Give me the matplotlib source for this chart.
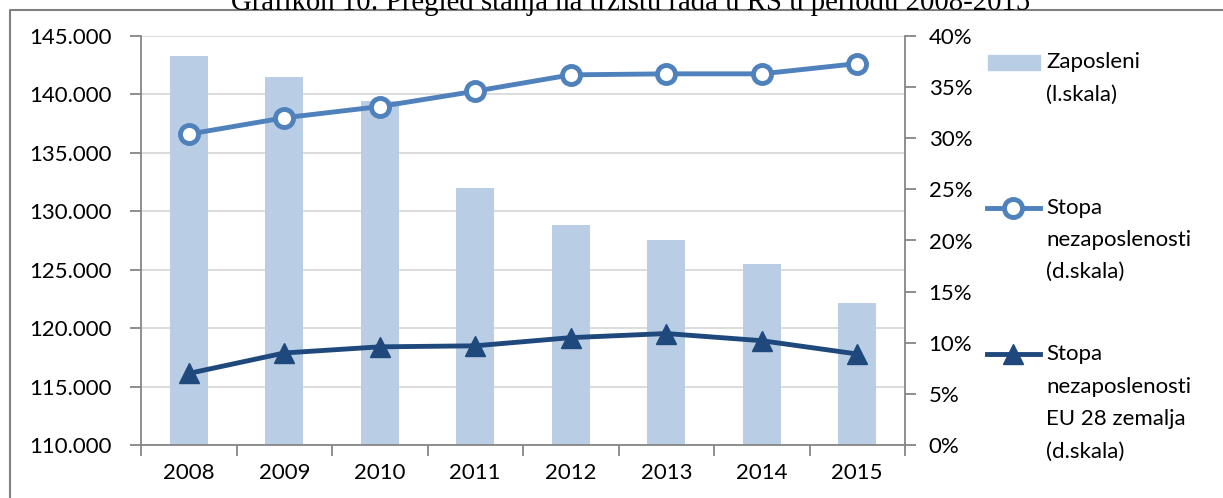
import matplotlib
matplotlib.use("Agg")
import matplotlib.pyplot as plt
from matplotlib.lines import Line2D
from matplotlib.patches import Rectangle
import numpy as np

years = ["2008", "2009", "2010", "2011", "2012", "2013", "2014", "2015"]
zaposleni = [143300, 141500, 139450, 132000, 128850, 127550, 125450, 122150]
stopa = [0.304, 0.320, 0.331, 0.346, 0.362, 0.363, 0.363, 0.373]
stopa_eu = [0.070, 0.090, 0.096, 0.097, 0.105, 0.109, 0.102, 0.089]

W, H = 1223, 498
BAR_C = "#B9CDE5"
LINE_C = "#4F81BD"
EU_C = "#1F497D"
AX_C = "#868686"

plt.rcParams["font.family"] = ["Lato", "DejaVu Sans"]

fig = plt.figure(figsize=(W / 100, H / 100), dpi=100)


def fx(px):
    return px / W


def fy(py):
    return 1 - py / H


ax = fig.add_axes([fx(141), fy(445), fx(905) - fx(141), fy(36) - fy(445)])
x = np.arange(len(years))

ax.bar(x, zaposleni, width=0.4, color=BAR_C, zorder=2)
ax.set_xlim(-0.5, len(years) - 0.5)
ax.set_ylim(110000, 145000)
yt = np.arange(110000, 145001, 5000)
ax.set_yticks(yt)
ax.set_yticklabels([f"{v:,.0f}".replace(",", ".") for v in yt])
ax.yaxis.grid(True, color="#D9D9D9", lw=1.3)
ax.set_axisbelow(True)

# category ticks between bars, labels in the middle
ax.set_xticks(np.arange(-0.5, len(years)), labels=[])
ax.set_xticks(x, labels=years, minor=True)
ax.tick_params(axis="x", which="minor", length=0, pad=13, labelsize=16)
ax.tick_params(axis="x", which="major", length=8, width=1.3, color=AX_C)
ax.tick_params(axis="y", length=8, width=1.3, color=AX_C, pad=13, labelsize=16)

for s in ["top", "right"]:
    ax.spines[s].set_visible(False)
for s in ["left", "bottom"]:
    ax.spines[s].set_color(AX_C)
    ax.spines[s].set_linewidth(1.3)

ax2 = ax.twinx()
ax2.plot(x, stopa, color=LINE_C, lw=3.5, marker="o", ms=13,
         mfc="white", mec=LINE_C, mew=3.5, zorder=3)
ax2.plot(x, stopa_eu, color=EU_C, lw=3.5, marker="^", ms=14,
         mfc=EU_C, mec=EU_C, zorder=3)
ax2.set_ylim(0, 0.40)
pt = np.arange(0, 0.401, 0.05)
ax2.set_yticks(pt)
ax2.set_yticklabels([f"{round(v * 100)}%" for v in pt])
ax2.tick_params(axis="y", length=8, width=1.3, color=AX_C, pad=9, labelsize=16)
for s in ["top", "left", "bottom"]:
    ax2.spines[s].set_visible(False)
ax2.spines["right"].set_color(AX_C)
ax2.spines["right"].set_linewidth(1.3)

# legend, drawn by hand like the Excel one
fs = 16
fig.patches.append(Rectangle((fx(988), fy(70)), fx(1040) - fx(988), fy(55) - fy(70),
                             transform=fig.transFigure, color=BAR_C))
for i, t in enumerate(["Zaposleni", "(l.skala)"]):
    fig.text(fx(1046), fy(62 + 33 * i), t, fontsize=fs, va="center", ha="left")

fig.add_artist(Line2D([fx(987), fx(1040)], [fy(208)] * 2, color=LINE_C, lw=3.5,
                      transform=fig.transFigure))
fig.add_artist(Line2D([fx(1013)], [fy(208)], marker="o", ms=13, mfc="white",
                      mec=LINE_C, mew=3.5, transform=fig.transFigure))
for i, t in enumerate(["Stopa", "nezaposlenosti", "(d.skala)"]):
    fig.text(fx(1046), fy(208 + 32 * i), t, fontsize=fs, va="center", ha="left")

fig.add_artist(Line2D([fx(987), fx(1040)], [fy(354)] * 2, color=EU_C, lw=3.5,
                      transform=fig.transFigure))
fig.add_artist(Line2D([fx(1013)], [fy(354)], marker="^", ms=14, mfc=EU_C,
                      mec=EU_C, transform=fig.transFigure))
for i, t in enumerate(["Stopa", "nezaposlenosti", "EU 28 zemalja", "(d.skala)"]):
    fig.text(fx(1046), fy(354 + 32.5 * i), t, fontsize=fs, va="center", ha="left")

# outer frame and the cut-off caption above it
fig.add_artist(Line2D([fx(10), fx(10), fx(W + 5)], [fy(H + 5), fy(10), fy(10)],
                      color="#808080", lw=1.5, transform=fig.transFigure))
fig.text(fx(631), fy(10), "Grafikon 10: Pregled stanja na tržištu rada u RS u periodu 2008-2015",
         fontsize=20.7, family="Liberation Serif", ha="center", va="baseline")

fig.savefig("out.png", dpi=100)
